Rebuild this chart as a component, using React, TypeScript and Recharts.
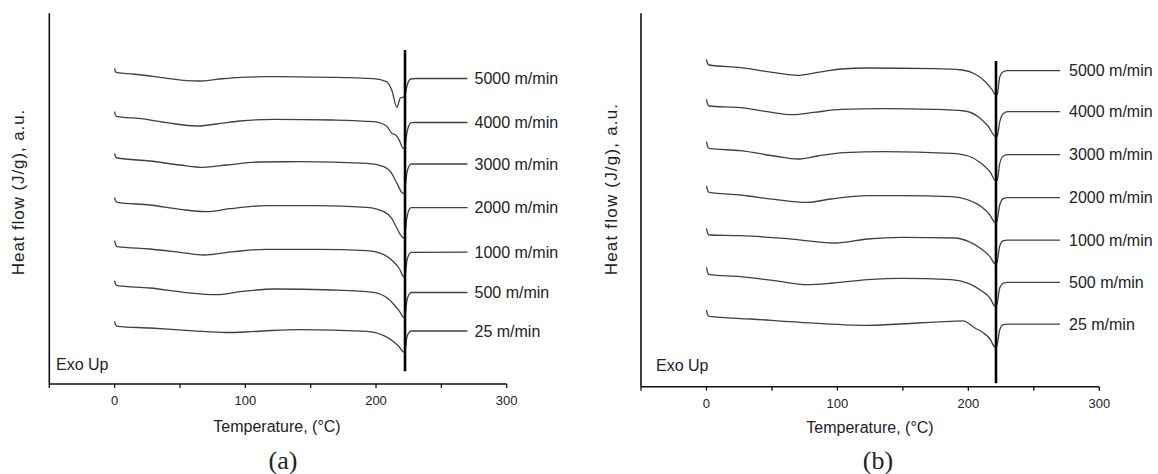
import React from "react";
import { LineChart, Line, XAxis, YAxis, ReferenceLine, LabelList } from "recharts";

type Pt = [number, number];

// temperature (°C) vs heat flow (a.u., traces stacked by offset)
const speedsA = ["5000 m/min", "4000 m/min", "3000 m/min", "2000 m/min", "1000 m/min", "500 m/min", "25 m/min"];
const speedsB = ["5000 m/min", "4000 m/min", "3000 m/min", "2000 m/min", "1000 m/min", "500 m/min", "25 m/min"];

const a5000: Pt[] = [[0, 315.7], [0.6, 312.5], [2, 311.3], [14, 310], [40, 305.7], [55, 303.3], [65, 303], [78, 304.7], [96, 306.7], [116, 307.3], [167, 306.7], [198, 305.3], [208, 302.3], [212, 294], [216, 276.7], [218.5, 285.7], [220.5, 286.7], [222, 288], [223.5, 297], [224.8, 302.3], [226.6, 305], [230, 305.5], [270, 305.5]];
const a4000: Pt[] = [[0, 272.3], [0.6, 269], [2, 267.3], [20, 265.3], [40, 261.3], [63, 258], [78, 260], [96, 263], [122, 264.7], [167, 264], [198, 262.3], [208, 258], [212, 250.7], [215, 249], [217.5, 244.7], [220.8, 235.7], [222, 236.5], [223.5, 250], [225, 258], [227, 261.3], [230, 261.5], [270, 261.5]];
const a3000: Pt[] = [[0, 230.7], [0.6, 227.5], [2, 226], [27, 223], [50, 219], [68, 216.7], [86, 219], [111, 222], [142, 222.3], [193, 220.7], [206, 217.3], [212, 210.7], [216, 200.7], [220, 191.3], [221.5, 190.5], [223.5, 210], [225, 217.3], [227, 220], [270, 220]];
const a2000: Pt[] = [[0, 186.7], [0.6, 183.5], [2, 181.7], [27, 179], [50, 174.7], [70, 172.3], [88, 175.3], [116, 178.3], [155, 178.3], [193, 176.7], [206, 172.3], [212, 165.7], [216, 155.7], [220, 147], [221.5, 146], [223.5, 165], [225, 173.5], [227, 176.3], [270, 176.3]];
const a1000: Pt[] = [[0, 143.3], [0.6, 140], [2, 137.3], [27, 135], [50, 131.7], [68, 129], [91, 132.3], [116, 134.7], [155, 134.7], [193, 133.3], [206, 129.3], [213, 122.7], [218, 115], [221, 107.3], [222, 107], [223.5, 122], [225, 129], [227, 131.7], [270, 131.8]];
const a500: Pt[] = [[0, 103.3], [0.6, 100], [2, 98.3], [27, 96], [53, 91.7], [78, 89.3], [96, 92.3], [122, 95], [167, 94], [198, 91.7], [209.5, 85], [214.5, 78.3], [218.5, 71.7], [221, 66.7], [222, 66.5], [223.5, 82], [225, 89], [227, 91.5], [270, 91.5]];
const a25: Pt[] = [[0, 62.7], [0.6, 59.5], [2, 57.7], [27, 56], [60, 53.2], [85, 51.5], [100, 52], [120, 53.5], [142, 54.3], [193, 52.7], [206, 48.3], [213, 42.7], [218, 36.7], [221, 32], [222, 31.8], [223.5, 46], [225, 51], [227, 53], [270, 53]];

const b5000: Pt[] = [[0, 327.3], [0.6, 324], [2, 321.7], [26, 319], [52, 314], [69.5, 311.3], [85, 314.3], [103, 317.7], [123, 318.7], [174, 318], [195, 316.7], [205, 312.7], [213, 305], [218, 297.3], [221, 291.7], [222, 292], [224, 310], [226.7, 315], [230, 316], [270, 316]];
const b4000: Pt[] = [[0, 287.3], [0.6, 283.5], [2, 280.7], [26, 279], [46.5, 275], [65.7, 272], [82, 274.3], [103, 277.3], [136, 278], [174, 277.3], [197, 275.7], [207.5, 270], [215, 260.7], [221, 250], [222, 250.5], [224, 265], [226.7, 273.3], [230, 275], [270, 275]];
const b3000: Pt[] = [[0, 245], [0.6, 241.5], [2, 238.3], [26, 236], [52, 230.7], [69.5, 227.7], [85, 230.7], [105, 234], [136, 235], [187, 233.3], [200, 230.7], [210, 223.3], [216.5, 215], [221, 206], [222, 206.5], [224, 223.3], [226.7, 230.7], [230, 232], [270, 232]];
const b2000: Pt[] = [[0, 200.7], [0.6, 197.5], [2, 194.3], [26, 191.7], [52, 187.3], [77, 184.3], [95, 187.7], [123, 191], [149, 191], [187, 190], [200, 186.7], [210, 180], [216.5, 171.7], [220, 164.5], [221.5, 164], [224, 182], [226.7, 188], [230, 189], [270, 189]];
const b1000: Pt[] = [[0, 158.3], [0.6, 155], [2, 151.7], [26, 151], [59, 148.3], [98, 143.7], [123, 147.7], [149, 149.3], [190, 148.7], [200, 145.3], [210, 137.7], [216.5, 130], [220, 123.3], [221.5, 122.5], [224, 141], [226.7, 146], [230, 146.5], [270, 146.5]];
const b500: Pt[] = [[0, 119.3], [0.6, 115.5], [2, 112], [26, 110], [52, 106], [77, 102], [97, 103.7], [123, 107], [149, 108.3], [187, 107], [200, 103.3], [210, 96], [216.5, 88.7], [220, 81], [221.5, 80.5], [224, 99], [226.7, 103.5], [230, 104.3], [270, 104.3]];
const b25: Pt[] = [[0, 76.7], [0.6, 73], [2, 70.3], [34, 67.7], [72, 64.3], [123, 61.3], [161, 63.7], [190, 65.5], [196, 65.8], [205, 58.7], [211, 54.3], [216.5, 47.7], [220, 40], [221.5, 39.5], [224, 57], [226.7, 62], [230, 62.5], [270, 62.5]];

const tempTicks = [-50, 0, 50, 100, 150, 200, 250, 300];

const FONT = "'Liberation Sans', Arial, sans-serif";
const INK = "#404040";

function toRows(pts: Pt[], name: string) {
  return pts.map(([t, v], i) => ({ t, v, label: i === pts.length - 1 ? name : undefined }));
}

function Panel({
  curves,
  names,
  yTop,
  margin,
  peakT,
  peakLow,
  peakHigh,
  labelGap,
}: {
  curves: Pt[][];
  names: string[];
  yTop: number;
  margin: { top: number; left: number; right: number; bottom: number };
  peakT: number;
  peakLow: number;
  peakHigh: number;
  labelGap: number;
}) {
  return (
    <LineChart width={580} height={474} margin={margin}>
      <XAxis
        dataKey="t"
        type="number"
        domain={[-50, 300]}
        ticks={tempTicks}
        interval={0}
        tickFormatter={(v: number) => (v >= 0 && v % 100 === 0 ? String(v) : "")}
        axisLine={{ stroke: "#111", strokeWidth: 1.6 }}
        tickLine={{ stroke: "#111", strokeWidth: 1.3 }}
        tickSize={4}
        tickMargin={8}
        height={30}
        tick={{ fontSize: 13, fill: "#222", fontFamily: FONT }}
      />
      <YAxis
        type="number"
        domain={[0, yTop]}
        width={1}
        tick={false}
        tickLine={false}
        axisLine={{ stroke: "#111", strokeWidth: 1.6 }}
      />
      {curves.map((pts, i) => (
        <Line
          key={names[i]}
          data={toRows(pts, names[i])}
          dataKey="v"
          type="monotone"
          stroke={INK}
          strokeWidth={1.3}
          dot={false}
          activeDot={false}
          isAnimationActive={false}
        >
          <LabelList
            dataKey="label"
            position="right"
            offset={labelGap}
            style={{ fontSize: 16, fill: "#222", fontFamily: FONT }}
          />
        </Line>
      ))}
      <ReferenceLine
        segment={[
          { x: peakT, y: peakLow },
          { x: peakT, y: peakHigh },
        ]}
        stroke="#000"
        strokeWidth={2.6}
        ifOverflow="visible"
      />
    </LineChart>
  );
}

function Txt({
  x,
  y,
  children,
  size = 16,
  rotate = false,
  serif = false,
  left = false,
  spacing = 0,
}: {
  x: number;
  y: number;
  children: React.ReactNode;
  size?: number;
  rotate?: boolean;
  serif?: boolean;
  left?: boolean;
  spacing?: number;
}) {
  const tf = left ? "translate(0,-50%)" : "translate(-50%,-50%)" + (rotate ? " rotate(-90deg)" : "");
  return (
    <div
      style={{
        position: "absolute",
        left: x,
        top: y,
        transform: tf,
        whiteSpace: "nowrap",
        fontSize: size,
        lineHeight: 1,
        letterSpacing: spacing,
        color: "#222",
        fontFamily: serif ? "'Liberation Serif', 'Times New Roman', serif" : FONT,
      }}
    >
      {children}
    </div>
  );
}

export default function App() {
  return (
    <div style={{ position: "absolute", left: 0, top: 0, width: 1158, height: 474, background: "#fff", overflow: "hidden" }}>
      <div style={{ position: "absolute", left: 0, top: 0 }}>
        <Panel
          curves={[a5000, a4000, a3000, a2000, a1000, a500, a25]}
          names={speedsA}
          yTop={370.7}
          margin={{ top: 13.3, left: 48.3, right: 73.3, bottom: 60 }}
          peakT={222.2}
          peakLow={12.7}
          peakHigh={334}
          labelGap={7}
        />
      </div>
      <div style={{ position: "absolute", left: 580, top: 0 }}>
        <Panel
          curves={[b5000, b4000, b3000, b2000, b1000, b500, b25]}
          names={speedsB}
          yTop={373.4}
          margin={{ top: 13.3, left: 60, right: 60.7, bottom: 57.3 }}
          peakT={221.1}
          peakLow={3.4}
          peakHigh={325.7}
          labelGap={9}
        />
      </div>

      <Txt x={18} y={192} rotate size={17} spacing={0.9}>Heat flow (J/g), a.u.</Txt>
      <Txt x={611} y={189} rotate size={17} spacing={1.2}>Heat flow (J/g), a.u.</Txt>
      <Txt x={277} y={427}>Temperature, (°C)</Txt>
      <Txt x={870} y={428}>Temperature, (°C)</Txt>
      <Txt x={56} y={365} left>Exo Up</Txt>
      <Txt x={656} y={366} left>Exo Up</Txt>
      <Txt x={283} y={461} size={26} serif>(a)</Txt>
      <Txt x={878} y={461} size={26} serif>(b)</Txt>
    </div>
  );
}
